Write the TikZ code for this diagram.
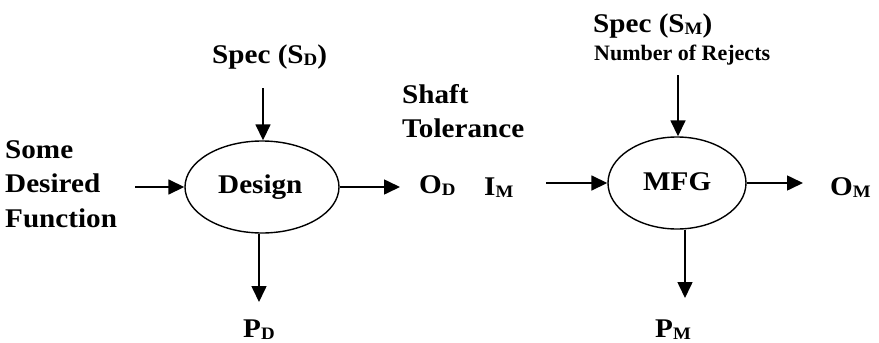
\documentclass[tikz,border=0pt]{standalone}
\usepackage{fontspec}
\setmainfont{Liberation Serif}[FakeStretch=1.08]
\newfontfamily\plainserif{Liberation Serif}
\usetikzlibrary{arrows.meta,shapes.geometric}
\newcommand\sbs[1]{\raisebox{-2.5pt}{\fontsize{17.5}{17.5}\selectfont #1}}
\tikzset{
  txt/.style={anchor=base west,inner sep=0pt,font=\fontsize{27}{34.5}\selectfont\bfseries},
  small/.style={anchor=base west,inner sep=0pt,font=\plainserif\fontsize{22}{24}\selectfont\bfseries},
  proc/.style={ellipse,draw,line width=1.4pt,inner sep=0pt,font=\fontsize{27}{30}\selectfont\bfseries},
  arr/.style={line width=1.6pt,-{Triangle[length=16pt,width=15pt]}}
}
\begin{document}
\begin{tikzpicture}[x=1pt,y=-1pt]
\useasboundingbox (0,0) rectangle (879,343);
% design block
\node[proc,minimum width=154pt,minimum height=92pt] (design) at (262,187) {};
\node[txt] (designlbl) at (218,193) {Design};
\node[txt] (specD) at (212,63) {Spec (S\sbs{D})};
\coordinate (aD) at (263,88);
\node[txt,align=left,anchor=north west] (sdf) at (5,140) {Some\\Desired\\Function};
\coordinate (sdfend) at (135,187);
\node[txt] (OD) at (419,193) {O\sbs{D}};
\coordinate (odend) at (400,187);
\coordinate (pdend) at (259,302);
\node[txt] (PD) at (243,337) {P\sbs{D}};
\node[txt,align=left,anchor=north west] (shaft) at (402,84) {Shaft\\Tolerance};
% MFG block
\node[proc,minimum width=138pt,minimum height=92pt] (mfg) at (677,183) {};
\node[txt] (mfglbl) at (643,190) {MFG};
\node[txt] (specM) at (593,32) {Spec (S\sbs{M})};
\node[small] (rejects) at (594,60) {Number of Rejects};
\coordinate (aM) at (678,75);
\node[txt] (IM) at (484,195) {I\sbs{M}};
\coordinate (imstart) at (546,183);
\coordinate (omend) at (803,183);
\node[txt] (OM) at (830,195) {O\sbs{M}};
\coordinate (pmend) at (685,298);
\node[txt] (PM) at (655,337) {P\sbs{M}};
% connectors
\draw[arr] (aD) -- (aD |- design.north);
\draw[arr] (sdfend) -- (design.west);
\draw[arr] (design.east) -- (odend);
\draw[arr] (pdend |- design.south) -- (pdend);
\draw[arr] (aM) -- (aM |- mfg.north);
\draw[arr] (imstart) -- (mfg.west);
\draw[arr] (mfg.east) -- (omend);
\draw[arr] (pmend |- mfg.south) -- (pmend);
\end{tikzpicture}
\end{document}
